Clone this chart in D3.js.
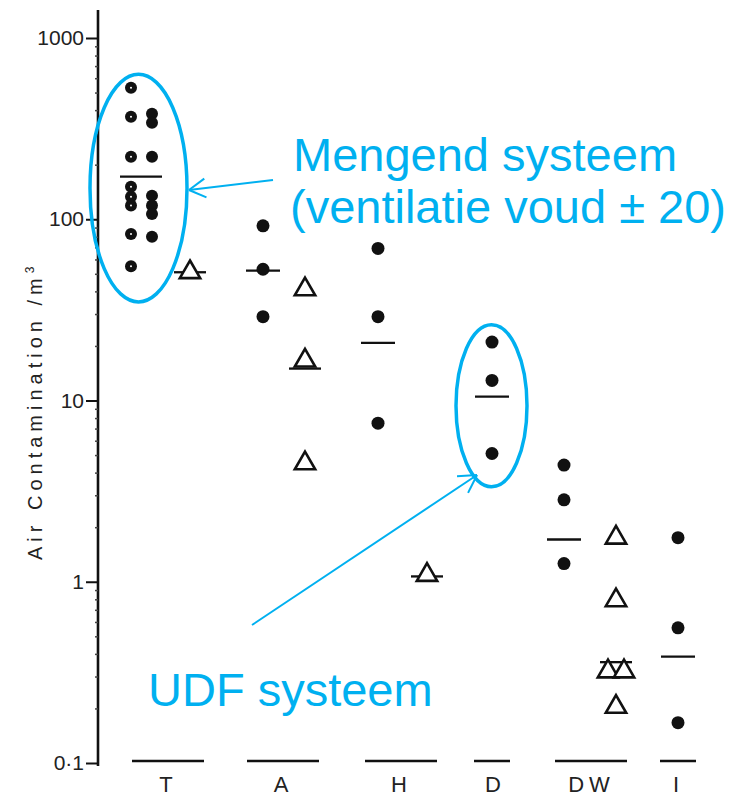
<!DOCTYPE html>
<html>
<head>
<meta charset="utf-8">
<script src="https://cdn.jsdelivr.net/npm/d3@7"></script>
<style>
  body { margin: 0; background: #fff; }
  svg { display: block; font-family: "Liberation Sans", Arial, sans-serif; }
</style>
</head>
<body>
<div id="chart"></div>
<script>
// categories along the bottom
var categories = ["T", "A", "H", "D", "DW", "I"];

// filled circles (T was plotted in two columns)
var tLeft = [532, 368, 221, 151, 133, 119, 83, 55];
var tRight = [382, 341, 221, 135, 119, 107, 80];
var circA = [92, 53, 29];
var circH = [69, 29, 7.5];
var circD = [21, 12.9, 5.1];
var circDW = [4.4, 2.83, 1.26];
var circI = [1.75, 0.557, 0.167];

// open triangles
var triT = [51];
var triA = [41, 16.6, 4.5];
var triH = [1.09];
var triDW = [1.75, 0.79, 0.32, 0.32, 0.204];

// median bars (null = no group)
var medCircle = [172, 52, 20.8, 10.5, 1.71, 0.386];
var medTriangle = [51, 15, 1.07, null, 0.36, null];

// log axis ticks
var yTicks = [0.1, 1, 10, 100, 1000];
var yTickLabels = ["0·1", "1", "10", "100", "1000"];
var floorValue = 0.1;

var width = 738, height = 798;
var ink = "#111";
var blue = "#00b0f0";

var svg = d3.select("#chart")
  .append("svg")
    .attr("width", width)
    .attr("height", height);

var y = d3.scaleLog().domain([0.1, 1000]).range([763, 38]);
var x = d3.scaleOrdinal().domain(categories).range([168, 283, 401, 495, 591, 678]);

// horizontal offsets of the two groups inside a category
var circleOff = { T: -27, A: -20, H: -23, D: -3, DW: -27, I: 0 };
var triOff = { T: 22, A: 22, H: 26, DW: 25 };

var circles = [];
tLeft.forEach(function(v) { circles.push({ cat: "T", v: v, dx: -37, hole: true }); });
tRight.forEach(function(v) { circles.push({ cat: "T", v: v, dx: -16 }); });
[["A", circA], ["H", circH], ["D", circD], ["DW", circDW], ["I", circI]].forEach(function(p) {
  p[1].forEach(function(v) { circles.push({ cat: p[0], v: v, dx: circleOff[p[0]] }); });
});

var triangles = [];
[["T", triT], ["A", triA], ["H", triH], ["DW", triDW]].forEach(function(p) {
  p[1].forEach(function(v, i) {
    // spread identical values side by side
    var same = p[1].filter(function(w) { return w === v; }).length;
    var rank = p[1].slice(0, i).filter(function(w) { return w === v; }).length;
    var dodge = same > 1 ? (rank - (same - 1) / 2) * 16 : 0;
    triangles.push({ cat: p[0], v: v, dx: triOff[p[0]] + dodge });
  });
});

// baseline bars at the detection floor
svg.append("g").selectAll("line")
  .data(categories)
  .enter().append("line")
    .attr("x1", function(d) { return x(d) + (triOff[d] ? -36 : circleOff[d] - 18); })
    .attr("x2", function(d) { return x(d) + (triOff[d] ? 36 : circleOff[d] + 18); })
    .attr("y1", y(floorValue) - 2)
    .attr("y2", y(floorValue) - 2)
    .attr("stroke", ink)
    .attr("stroke-width", 2.6);

// median bars
var meds = [];
categories.forEach(function(c, i) {
  if (medCircle[i] != null) meds.push({ cat: c, v: medCircle[i], cx: circleOff[c], half: c === "T" ? 21 : 17 });
  if (medTriangle[i] != null) meds.push({ cat: c, v: medTriangle[i], cx: triOff[c], half: 16 });
});
svg.append("g").selectAll("line")
  .data(meds)
  .enter().append("line")
    .attr("x1", function(d) { return x(d.cat) + d.cx - d.half; })
    .attr("x2", function(d) { return x(d.cat) + d.cx + d.half; })
    .attr("y1", function(d) { return y(d.v); })
    .attr("y2", function(d) { return y(d.v); })
    .attr("stroke", ink)
    .attr("stroke-width", 2.3);

svg.append("g").selectAll("circle")
  .data(circles)
  .enter().append("circle")
    .attr("cx", function(d) { return x(d.cat) + d.dx; })
    .attr("cy", function(d) { return y(d.v); })
    .attr("r", function(d) { return d.cat === "T" ? 6 : 6.5; })
    .attr("fill", ink);

svg.append("g").selectAll("circle")
  .data(circles.filter(function(d) { return d.hole; }))
  .enter().append("circle")
    .attr("cx", function(d) { return x(d.cat) + d.dx; })
    .attr("cy", function(d) { return y(d.v); })
    .attr("r", 1)
    .attr("fill", "#fff");

svg.append("g").selectAll("path")
  .data(triangles)
  .enter().append("path")
    .attr("transform", function(d) { return "translate(" + (x(d.cat) + d.dx) + "," + y(d.v) + ")"; })
    .attr("d", d3.symbol().type(d3.symbolTriangle).size(180))
    .attr("fill", "#fff")
    .attr("stroke", ink)
    .attr("stroke-width", 2.6)
    .attr("stroke-linejoin", "miter");

// y axis
var minor = [];
for (var e = -1; e < 3; e++) {
  for (var m = 2; m <= 9; m++) minor.push(m * Math.pow(10, e));
}
svg.append("line")
  .attr("x1", 98).attr("x2", 98)
  .attr("y1", 10).attr("y2", 766)
  .attr("stroke", ink)
  .attr("stroke-width", 2.6);

var minorAxis = svg.append("g")
  .attr("transform", "translate(98,0)")
  .call(d3.axisLeft(y).tickValues(minor).tickSize(3).tickFormat(""));
minorAxis.select(".domain").remove();
minorAxis.selectAll("line").attr("stroke", "#444").attr("stroke-width", 1.5);

var yAxis = svg.append("g")
  .attr("transform", "translate(98,0)")
  .call(d3.axisLeft(y).tickValues(yTicks).tickSize(12).tickPadding(2)
    .tickFormat(function(d, i) { return yTickLabels[i]; }));
yAxis.select(".domain").remove();
yAxis.selectAll("line").attr("stroke", ink).attr("stroke-width", 2);
yAxis.selectAll("text")
  .attr("fill", "#222")
  .style("font-size", "21px")
  .style("font-family", "Liberation Sans, Arial, sans-serif");

// category labels
var xAxis = svg.append("g")
  .attr("transform", "translate(0,770)")
  .call(d3.axisBottom(x).tickSize(0).tickPadding(6));
xAxis.select(".domain").remove();
xAxis.selectAll("text")
  .attr("fill", "#222")
  .style("font-size", "22px")
  .style("letter-spacing", "5px")
  .style("font-family", "Liberation Sans, Arial, sans-serif");

// y title
var yTitle = svg.append("text")
  .attr("transform", "translate(42,560) rotate(-90)")
  .attr("fill", "#222")
  .style("font-size", "20px")
  .style("letter-spacing", "5px")
  .text("Air Contamination /m");
yTitle.append("tspan")
  .attr("dy", -8)
  .style("font-size", "12px")
  .text("3");

// annotations
function ellipse(cx, vTop, vBottom, rx) {
  svg.append("ellipse")
    .attr("cx", cx)
    .attr("cy", (y(vTop) + y(vBottom)) / 2)
    .attr("rx", rx)
    .attr("ry", (y(vBottom) - y(vTop)) / 2)
    .attr("fill", "none")
    .attr("stroke", blue)
    .attr("stroke-width", 3.5);
}
ellipse(x("T") - 29.5, 630, 35, 48.5);
ellipse(x("D") - 3.5, 26.2, 3.34, 35.5);

function arrow(x1, y1, x2, y2, len) {
  var a = Math.atan2(y1 - y2, x1 - x2);
  var g = svg.append("g")
    .attr("stroke", blue)
    .attr("stroke-width", 2)
    .attr("fill", "none");
  g.append("line").attr("x1", x1).attr("y1", y1).attr("x2", x2).attr("y2", y2);
  [-0.52, 0.52].forEach(function(s) {
    g.append("line")
      .attr("x1", x2).attr("y1", y2)
      .attr("x2", x2 + len * Math.cos(a + s))
      .attr("y2", y2 + len * Math.sin(a + s));
  });
}
arrow(273, 180, 189, 190, 19);
arrow(252, 625, 477, 475, 20);

var notes = [
  { t: "Mengend systeem", x: 293, y: 171 },
  { t: "(ventilatie voud \u00b1 20)", x: 290, y: 223 },
  { t: "UDF systeem", x: 148, y: 706 }
];
svg.append("g").selectAll("text")
  .data(notes)
  .enter().append("text")
    .attr("x", function(d) { return d.x; })
    .attr("y", function(d) { return d.y; })
    .attr("fill", blue)
    .style("font-size", "47px")
    .text(function(d) { return d.t; });
</script>
</body>
</html>
